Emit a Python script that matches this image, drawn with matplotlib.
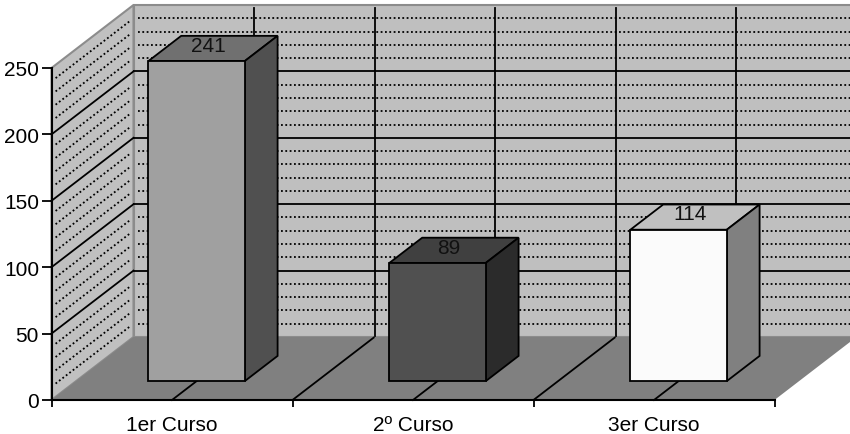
import matplotlib
matplotlib.use("Agg")
import matplotlib.pyplot as plt
from matplotlib.patches import Polygon

plt.rcParams['font.family'] = ['Liberation Sans', 'DejaVu Sans']

# data
categories = ["1er Curso", "2º Curso", "3er Curso"]
values = [241, 89, 114]
y_ticks = [0, 50, 100, 150, 200, 250]
y_minor = [10, 20, 30, 40, 60, 70, 80, 90, 110, 120, 130, 140, 160, 170, 180, 190, 210, 220, 230, 240]
x_grid = [0.5, 1, 1.5, 2, 2.5]

# bar colours: front, top, side
front_colors = ["#a0a0a0", "#505050", "#fbfbfb"]
top_colors = ["#707070", "#404040", "#c0c0c0"]
side_colors = ["#505050", "#2b2b2b", "#808080"]

# oblique shift of the full depth, in data units
DEPTH_X = 82 / 241
DEPTH_Y = 63 / 1.328


def project(x, y, z):
    # z = 0 front plane, z = 1 back wall
    return (x + z * DEPTH_X, y + z * DEPTH_Y)


def add_poly(ax, pts, color, edge="none", lw=0, z=1):
    ax.add_patch(Polygon(pts, closed=True, facecolor=color, edgecolor=edge,
                         linewidth=lw, zorder=z, clip_on=False, joinstyle="miter"))


def draw_line(ax, a, b, z=2, **kw):
    ax.plot([a[0], b[0]], [a[1], b[1]], zorder=z, clip_on=False, **kw)


fig = plt.figure(figsize=(8.5, 4.35), dpi=100)
ax = fig.add_axes([51.5 / 850, 1 - 401 / 435, 723 / 850, 332 / 435])
ax.set_xlim(0, 3)
ax.set_ylim(0, 250)

# walls and floor
add_poly(ax, [project(0, 0, 1), project(3, 0, 1), project(3, 250, 1), project(0, 250, 1)], "#bfbfbf", "#8c8c8c", 1.5)
add_poly(ax, [project(0, 0, 0), project(0, 0, 1), project(0, 250, 1), project(0, 250, 0)], "#c0c0c0", "#8c8c8c", 1.5)
add_poly(ax, [project(0, 0, 0), project(3, 0, 0), project(3, 0, 1), project(0, 0, 1)], "#808080")

dotted = dict(color="black", lw=1.3, linestyle=(0, (1, 1.4)))
solid = dict(color="black", lw=1.3)

for v in y_minor:
    draw_line(ax, project(0.02, v, 1), project(3, v, 1), **dotted)
    draw_line(ax, project(0, v, 0.05), project(0, v, 0.97), **dotted)
for v in y_ticks[1:-1]:
    draw_line(ax, project(0, v, 1), project(3, v, 1), **solid)
    draw_line(ax, project(0, v, 0), project(0, v, 1), **solid)
for x in x_grid:
    draw_line(ax, project(x, 0.5, 1), project(x, 248, 1), **solid)
    draw_line(ax, project(x, 0, 0), project(x, 0, 0.99), **solid)

# bars
for i, v in enumerate(values):
    x0, x1 = i + 0.3, i + 0.7
    z0, z1 = 0.3, 0.7
    add_poly(ax, [project(x0, v, z0), project(x1, v, z0), project(x1, v, z1), project(x0, v, z1)],
             top_colors[i], "black", 1.3, z=5)
    add_poly(ax, [project(x1, 0, z0), project(x1, 0, z1), project(x1, v, z1), project(x1, v, z0)],
             side_colors[i], "black", 1.3, z=5)
    add_poly(ax, [project(x0, 0, z0), project(x1, 0, z0), project(x1, v, z0), project(x0, v, z0)],
             front_colors[i], "black", 1.3, z=6)
    lx, ly = project(i + 0.49, v + 3.8, 0.47)
    ax.text(lx, ly, str(v), ha="center", va="center", fontsize=15, color="#111111", zorder=7)

# axes
ax.patch.set_visible(False)
for s in ["top", "right"]:
    ax.spines[s].set_visible(False)
for s in ["left", "bottom"]:
    ax.spines[s].set_linewidth(1.5)
    ax.spines[s].set_zorder(4)
ax.set_yticks(y_ticks)
ax.set_xticks([0, 1, 2, 3])
ax.set_xticklabels([])
ax.set_xticks([0.5, 1.5, 2.5], minor=True)
ax.set_xticklabels(categories, minor=True)
ax.tick_params(axis="y", length=7, width=1.3, labelsize=15, pad=2)
ax.tick_params(axis="x", which="major", length=5, width=1.3)
ax.tick_params(axis="x", which="minor", length=0, labelsize=15, pad=11)

fig.savefig("out.png", dpi=100)
